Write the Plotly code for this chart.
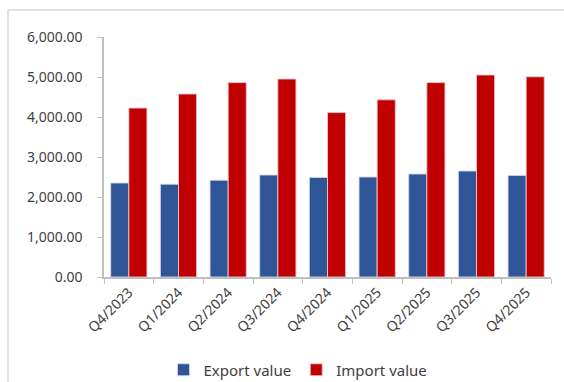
import plotly.graph_objects as go

categories = ["Q4/2023", "Q1/2024", "Q2/2024", "Q3/2024", "Q4/2024",
              "Q1/2025", "Q2/2025", "Q3/2025", "Q4/2025"]
export_values = [2350, 2320, 2420, 2550, 2490, 2500, 2575, 2650, 2540]
import_values = [4225, 4575, 4860, 4950, 4110, 4430, 4860, 5050, 5005]
y_ticks = [0, 1000, 2000, 3000, 4000, 5000, 6000]

FONT = "Noto Sans"
TXT = "#404040"
AX = "#BFBFBF"

fig = go.Figure()
fig.add_trace(go.Bar(x=categories, y=export_values, name="Export value",
                     marker=dict(color="#2F5597", line=dict(color="rgba(210,215,235,0.9)", width=1))))
fig.add_trace(go.Bar(x=categories, y=import_values, name="Import value",
                     marker=dict(color="#C00000", line=dict(color="rgba(235,200,205,0.9)", width=1))))

W, H = 564, 382
L, R, T, B = 104, 13, 37, 105
pw, ph = W - L - R, H - T - B

fig.update_layout(
    width=W, height=H,
    margin=dict(l=L, r=R, t=T, b=B, autoexpand=False),
    paper_bgcolor="white", plot_bgcolor="white",
    barmode="group", bargap=0.27, bargroupgap=0,
    font=dict(family=FONT, color=TXT, size=13),
    showlegend=True,
    legend=dict(orientation="h", x=(298 - L) / pw, xanchor="center",
                y=(H - B - 370) / ph, yanchor="middle",
                font=dict(size=15, color=TXT), traceorder="normal",
                itemwidth=30),
    xaxis=dict(type="category", tickson="boundaries", ticks="outside", ticklen=5,
               tickcolor=AX, showline=True, linecolor=AX, linewidth=1.5,
               tickangle=-45, tickfont=dict(size=14, color=TXT), showgrid=False,
               automargin=False),
    yaxis=dict(range=[0, 6000], tickvals=y_ticks, tickformat=",.2f",
               ticks="outside", ticklen=5, tickcolor=AX, showline=True,
               linecolor=AX, linewidth=1.5, showgrid=False, zeroline=False,
               tickfont=dict(size=14, color=TXT), ticklabelstandoff=12,
               automargin=False),
    shapes=[
        dict(type="line", xref="paper", yref="paper",
             x0=(8 - L) / pw, x1=(W + 5 - L) / pw,
             y0=(H - B - 10) / ph, y1=(H - B - 10) / ph,
             line=dict(color="#D9D9D9", width=1.5)),
        dict(type="line", xref="paper", yref="paper",
             x0=(8 - L) / pw, x1=(8 - L) / pw,
             y0=(H - B - 10) / ph, y1=(H - B - H - 5) / ph,
             line=dict(color="#D9D9D9", width=1.5)),
    ],
)

fig.write_html("out.html")
